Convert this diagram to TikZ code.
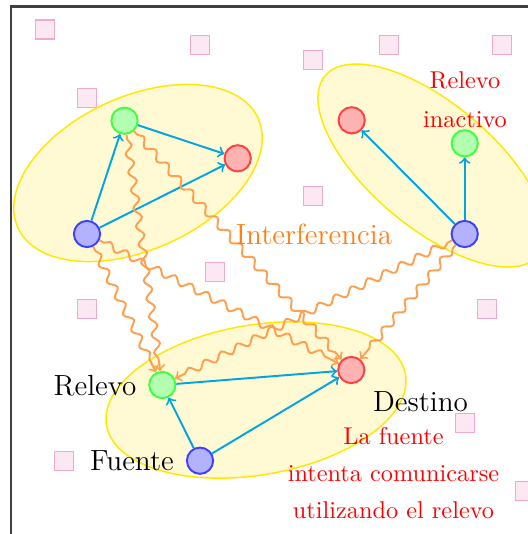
\documentclass[tikz,border=0pt]{standalone}
\usetikzlibrary{decorations.pathmorphing}

\definecolor{arrblue}{RGB}{0,165,225}
\definecolor{sqfill}{RGB}{252,232,242}
\definecolor{sqdraw}{RGB}{240,170,205}
\definecolor{ellfill}{RGB}{255,250,212}
\definecolor{elldraw}{RGB}{255,232,0}
\definecolor{wavecol}{RGB}{255,160,80}
\definecolor{interf}{RGB}{255,128,20}

\begin{document}
\begin{tikzpicture}[x=0.4115pt, y=-0.4115pt,
  dev/.style={circle, thick, minimum size=10.8pt, inner sep=0pt},
  src/.style={dev, draw=blue!75, fill=blue!30},
  rly/.style={dev, draw=green!75, fill=green!30},
  dst/.style={dev, draw=red!75, fill=red!30},
  link/.style={->, thick, draw=arrblue},
  wave/.style={->, thick, draw=wavecol, decorate,
    decoration={snake, amplitude=1.5pt, segment length=7.5pt, pre length=2pt, post length=3pt}},
  sq/.style={draw=sqdraw, fill=sqfill, semithick, minimum size=7.9pt, inner sep=0pt},
  grp/.style={draw=elldraw, fill=ellfill, semithick},
  blk/.style={font=\large, inner sep=0pt, anchor=base},
  note/.style={text=red, align=center, inner sep=0pt, anchor=north},
]
\path[use as bounding box] (0,0) rectangle (528,534);
\clip (0,0) rectangle (528,534);

% frame
\draw[line width=0.85pt, black!75] (11,6.5) rectangle (600,600);

% pink squares
\node[sq] (sq1) at (45,29.5) {};
\node[sq] (sq2) at (200,45) {};
\node[sq] (sq3) at (313,60) {};
\node[sq] (sq4) at (389,45) {};
\node[sq] (sq5) at (502,45) {};
\node[sq] (sq6) at (87,98) {};
\node[sq] (sq7) at (313,196) {};
\node[sq] (sq8) at (215,272) {};
\node[sq] (sq9) at (87,309) {};
\node[sq] (sq10) at (487,309) {};
\node[sq] (sq11) at (465,423) {};
\node[sq] (sq12) at (64,461) {};
\node[sq] (sq13) at (525,491) {};

% groups
\draw[grp, shift={(138,173)}, rotate=24.5] (0,0) ellipse [x radius=132, y radius=76.5];
\draw[grp, shift={(432,165.5)}, rotate=-40] (0,0) ellipse [x radius=139.5, y radius=62];
\draw[grp, shift={(256,400)}, rotate=9.6] (0,0) ellipse [x radius=151.6, y radius=75];

% devices
\node[src] (tlb) at (87,234) {};
\node[rly] (tlg) at (124.5,120.7) {};
\node[dst] (tlr) at (237.7,158.3) {};
\node[dst] (trr) at (351.7,120.3) {};
\node[rly] (trg) at (464.7,143.3) {};
\node[src] (trb) at (464.7,234) {};
\node[src] (fue) at (200,460.7) {};
\node[rly] (rel) at (162.3,385) {};
\node[dst] (des) at (351.3,370) {};

% links
\draw[link] (tlb) -- (tlg);
\draw[link] (tlg) -- (tlr);
\draw[link] (tlb) -- (tlr);
\draw[link] (trb) -- (trr);
\draw[link] (trb) -- (trg);
\draw[link] (fue) -- (rel);
\draw[link] (rel) -- (des);
\draw[link] (fue) -- (des);

% interference
\draw[wave] (tlg) -- (rel);
\draw[wave] (tlb) -- (rel);
\draw[wave] (tlg) -- (des);
\draw[wave] (tlb) -- (des);
\draw[wave] (trb) -- (rel);
\draw[wave] (trb) -- (des);

% labels
\node[blk] (lrel) at (95,395) {Relevo};
\node[blk] (lfue) at (132,470.7) {Fuente};
\node[blk] (ldes) at (420.5,411.7) {Destino};
\node[blk, text=interf] (lint) at (314,244) {Interferencia};
\node[note] (nina) at (465,71.4) {Relevo\\[3.8pt]inactivo};
\node[note] (nsrc) at (393.5,426.4) {La fuente\\[3.4pt]intenta comunicarse\\[3.4pt]utilizando el relevo};
\end{tikzpicture}
\end{document}
